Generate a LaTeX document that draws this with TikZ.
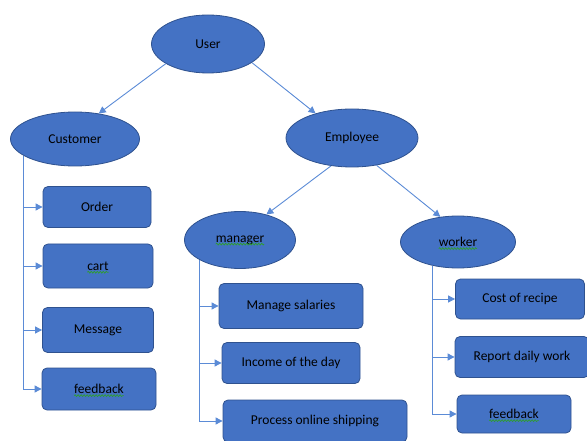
\documentclass[tikz,border=0pt]{standalone}
\usepackage{fontspec}
\setmainfont{Carlito}
\usetikzlibrary{shapes.geometric, arrows.meta, decorations.pathmorphing, calc}
\definecolor{boxblue}{HTML}{4472C4}
\definecolor{edgeblue}{HTML}{2F528F}
\definecolor{linkblue}{HTML}{5B8BD6}
\definecolor{spellgreen}{HTML}{2E9E2E}
\newcommand{\nodefont}{\fontsize{13.5}{16}\selectfont}

\begin{document}
\begin{tikzpicture}[x = 1pt, y = -1pt, font = \nodefont,
		role/.style = {ellipse, draw = edgeblue, fill = boxblue, inner sep = 0pt, line width = 0.8pt},
		task/.style = {rectangle, rounded corners = 5pt, draw = edgeblue, fill = boxblue, inner sep = 0pt, line width = 0.8pt},
		link/.style = {draw = linkblue, line width = 0.9pt, -{Triangle[length = 7pt, width = 7pt]}},
		spell/.style = {draw = spellgreen, line width = 0.7pt, decorate, decoration = {snake, amplitude = 0.9pt, segment length = 3pt}}]
			\useasboundingbox (0, 0) rectangle (587, 441);
			\node[role, minimum width = 113, minimum height = 58] (user) at (208, 44) {User};
			\node[role, minimum width = 129, minimum height = 54] (customer) at (75, 139) {Customer};
			\node[role, minimum width = 132, minimum height = 58] (employee) at (352, 138) {Employee};
			\node[role, minimum width = 111, minimum height = 57] (manager) at (240, 240) {manager};
				\draw[spell] ([yshift = -2pt]manager.text) -- ([yshift = -2pt]$(manager.base)!-1!(manager.text)$);
			\node[role, minimum width = 115, minimum height = 52] (worker) at (458, 242) {worker};
				\draw[spell] ([yshift = -2pt]worker.text) -- ([yshift = -2pt]$(worker.base)!-1!(worker.text)$);
			\draw[link] (user.205) -- (customer.47);
			\draw[link] (user.-23) -- (employee.146);
			\draw[link] (employee.233) -- (manager.44);
			\draw[link] (employee.312) -- (worker.125);
				\node[task, minimum width = 108, minimum height = 41] (order) at (97, 207) {Order};
				\node[task, minimum width = 110, minimum height = 44] (cart) at (98, 266) {cart};
				\draw[spell] ([yshift = -2pt]cart.text) -- ([yshift = -2pt]$(cart.base)!-1!(cart.text)$);
				\node[task, minimum width = 111, minimum height = 45] (message) at (98, 330) {Message};
				\node[task, minimum width = 114, minimum height = 42] (cfeedback) at (99, 389) {feedback};
				\draw[spell] ([yshift = -2pt]cfeedback.text) -- ([yshift = -2pt]$(cfeedback.base)!-1!(cfeedback.text)$);
			\draw[link] (customer.198) |- (cfeedback.west);
			\draw[link] (customer.198 |- order.west) -- (order.west);
			\draw[link] (customer.198 |- cart.west) -- (cart.west);
			\draw[link] (customer.198 |- message.west) -- (message.west);
				\node[task, minimum width = 144, minimum height = 45] (salaries) at (291, 306) {Manage salaries};
				\node[task, minimum width = 138, minimum height = 41] (income) at (291, 363) {Income of the day};
				\node[task, minimum width = 184, minimum height = 42] (shipping) at (315, 421) {Process online shipping};
			\draw[link] (manager.206) |- (shipping.west);
			\draw[link] (manager.206 |- salaries.west) -- (salaries.west);
			\draw[link] (manager.206 |- income.west) -- (income.west);
				\node[task, minimum width = 129, minimum height = 40] (recipe) at (520, 299) {Cost of recipe};
				\node[task, minimum width = 134, minimum height = 41] (report) at (522, 357) {Report daily work};
				\node[task, minimum width = 114, minimum height = 38] (wfeedback) at (514, 414) {feedback};
				\draw[spell] ([yshift = -2pt]wfeedback.text) -- ([yshift = -2pt]$(wfeedback.base)!-1!(wfeedback.text)$);
			\draw[link] (worker.223) |- (wfeedback.west);
			\draw[link] (worker.223 |- recipe.west) -- (recipe.west);
			\draw[link] (worker.223 |- report.west) -- (report.west);
		\end{tikzpicture}
\end{document}
